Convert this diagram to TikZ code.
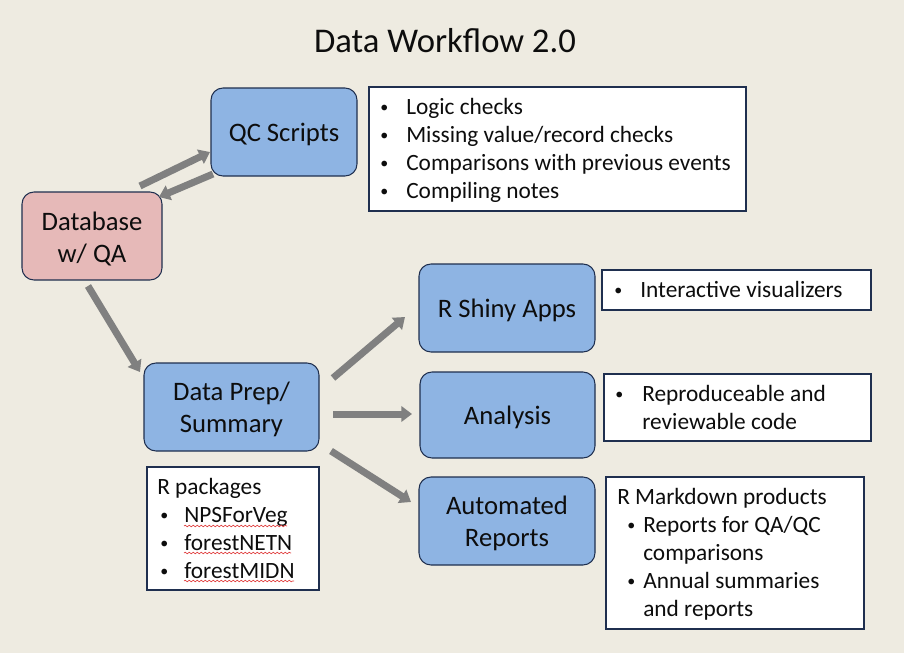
\documentclass[tikz,border=0pt]{standalone}
\usepackage{fontspec}
\setmainfont{Carlito}
\usetikzlibrary{arrows.meta,decorations.pathmorphing}
\definecolor{bg}{HTML}{EEEBE1}
\definecolor{bluefill}{HTML}{8EB4E3}
\definecolor{pinkfill}{HTML}{E6B9B8}
\definecolor{edgecol}{HTML}{1F2F4F}
\definecolor{arrowgray}{HTML}{808080}
\definecolor{txt}{HTML}{0D0D0D}
\definecolor{squig}{HTML}{E04040}
\newcommand{\bodyfont}{\fontsize{20}{24}\selectfont}
\newcommand{\listfont}{\fontsize{17.5}{21}\selectfont}
\newcommand{\bul}{\raisebox{1.2pt}{\fontsize{12}{12}\selectfont\textbullet}}
\begin{document}
\begin{tikzpicture}[x=0.75pt,y=-0.75pt,
  procbox/.style={draw=edgecol, line width=0.8pt, rounded corners=9pt, fill=bluefill,
    inner sep=0pt},
  dbbox/.style={procbox, fill=pinkfill},
  boxlabel/.style={inner sep=0pt, align=center, text=txt, font=\bodyfont, yshift=-1.9pt},
  notebox/.style={draw=edgecol, line width=0.8pt, fill=white, inner sep=0pt},
  listtext/.style={inner sep=0pt, anchor=base west, text=txt, font=\listfont},
  flow/.style={draw=arrowgray, line width=5.25pt,
    -{Triangle[width=11.5pt,length=8pt]}, color=arrowgray},
  spell/.style={draw=squig, line width=0.5pt, decorate,
    decoration={snake, amplitude=0.6pt, segment length=3pt}}
]
\fill[bg] (0,0) rectangle (904,653);
\useasboundingbox (0,0) rectangle (904,653);

% title
\node[inner sep=0pt, anchor=base, text=txt, font=\fontsize{26}{31}\selectfont] (title) at (445,52) {Data Workflow 2.0};

% process boxes
\node[procbox, minimum width=109.5pt, minimum height=66pt] (qc) at (284,132) {};
\node[dbbox, minimum width=105pt, minimum height=66pt] (db) at (92,236) {};
\node[procbox, minimum width=131.25pt, minimum height=66pt] (prep) at (231.5,407) {};
\node[procbox, minimum width=132pt, minimum height=66pt] (shiny) at (507,308) {};
\node[procbox, minimum width=131.25pt, minimum height=64.5pt] (analysis) at (507.5,415) {};
\node[procbox, minimum width=132pt, minimum height=66pt] (auto) at (507,521) {};

\node[boxlabel] (qclab) at (qc.center) {QC Scripts};
\node[boxlabel] (dblab) at (db.center) {Database\\w/ QA};
\node[boxlabel] (preplab) at (prep.center) {Data Prep/\\Summary};
\node[boxlabel] (shinylab) at (shiny.center) {R Shiny Apps};
\node[boxlabel] (analysislab) at (analysis.center) {Analysis};
\node[boxlabel] (autolab) at (auto.center) {Automated\\Reports};

% note boxes
\node[notebox, minimum width=282.75pt, minimum height=93pt] (qcnote) at (557.5,149) {};
\node[notebox, minimum width=129pt, minimum height=92.25pt] (pkgnote) at (233,528.5) {};
\node[notebox, minimum width=201.75pt, minimum height=30pt] (shinynote) at (736.5,290) {};
\node[notebox, minimum width=200.25pt, minimum height=50.25pt] (annote) at (737.5,407.5) {};
\node[notebox, minimum width=193.5pt, minimum height=114pt] (mdnote) at (735,553) {};

% note texts
\node[listtext] (qctext) at (380,114) {\begin{tabular}[t]{@{}p{19.5pt}@{}l@{}}
\bul & Logic checks\\
\bul & Missing value/record checks\\
\bul & Comparisons with previous events\\
\bul & Compiling notes
\end{tabular}};

\node[listtext] (pkgtext) at (157,494) {\begin{tabular}[t]{@{}p{20.25pt}@{}l@{}}
\multicolumn{2}{@{}l@{}}{R packages}\\
\hspace*{2.3pt}\bul & NPSForVeg\\
\hspace*{2.3pt}\bul & forestNETN\\
\hspace*{2.3pt}\bul & forestMIDN
\end{tabular}};

\node[listtext] (shinytext) at (614,297) {\begin{tabular}[t]{@{}p{19.5pt}@{}l@{}}
\bul & Interactive visualizers
\end{tabular}};

\node[listtext] (antext) at (615,401) {\begin{tabular}[t]{@{}p{20.25pt}@{}l@{}}
\bul & Reproduceable and\\
 & reviewable code
\end{tabular}};

\node[listtext] (mdtext) at (617,504) {\begin{tabular}[t]{@{}p{19.5pt}@{}l@{}}
\multicolumn{2}{@{}l@{}}{R Markdown products}\\
\hspace*{7.5pt}\bul & Reports for QA/QC\\
 & comparisons\\
\hspace*{7.5pt}\bul & Annual summaries\\
 & and reports
\end{tabular}};

% spell-check underlines
\coordinate (sq1a) at (184,526); \coordinate (sq1b) at (287,526);
\coordinate (sq2a) at (184,553); \coordinate (sq2b) at (291,553);
\coordinate (sq3a) at (184,581); \coordinate (sq3b) at (294,581);
\draw[spell] (sq1a) -- (sq1b);
\draw[spell] (sq2a) -- (sq2b);
\draw[spell] (sq3a) -- (sq3b);

% arrow end points
\coordinate (dbqcA) at (140,186);  \coordinate (dbqcB) at (210,152);
\coordinate (qcdbA) at (213,174);  \coordinate (qcdbB) at (159,197);
\coordinate (dbprepA) at (88,286); \coordinate (dbprepB) at (140,372);
\coordinate (prshA) at (333,378);  \coordinate (prshB) at (405,317);
\coordinate (pranA) at (333,414);  \coordinate (pranB) at (412,414);
\coordinate (prauA) at (331,451);  \coordinate (prauB) at (411,502);

\draw[flow] (dbqcA) -- (dbqcB);
\draw[flow] (qcdbA) -- (qcdbB);
\draw[flow] (dbprepA) -- (dbprepB);
\draw[flow] (prshA) -- (prshB);
\draw[flow] (pranA) -- (pranB);
\draw[flow] (prauA) -- (prauB);
\end{tikzpicture}
\end{document}
